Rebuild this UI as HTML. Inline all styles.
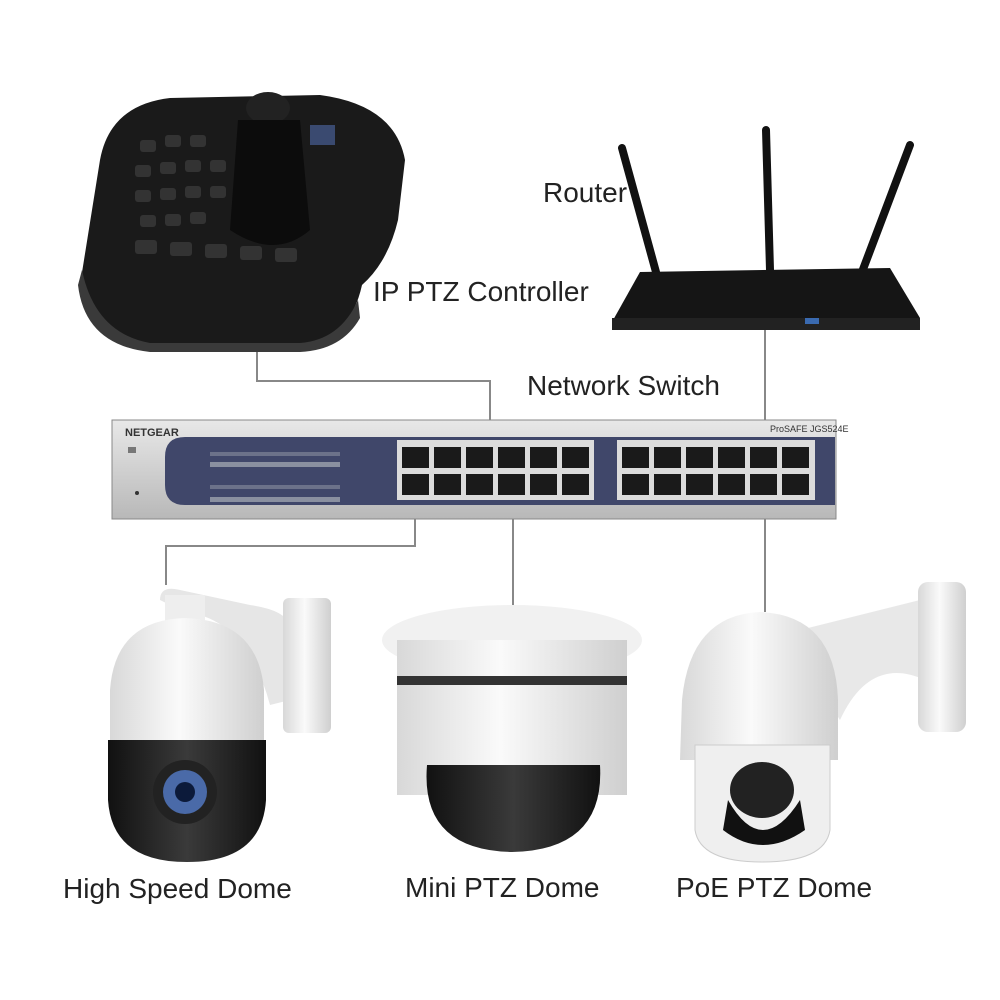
<!DOCTYPE html>
<html><head><style>
html,body{margin:0;padding:0;background:#fff;}
svg{display:block}
text{font-family:"Liberation Sans",sans-serif;fill:#222}
</style></head><body>
<svg width="1000" height="1000" viewBox="0 0 1000 1000" xmlns="http://www.w3.org/2000/svg">
<defs>
<linearGradient id="wh" x1="0" x2="1"><stop offset="0" stop-color="#d8d8d8"/><stop offset=".45" stop-color="#fafafa"/><stop offset="1" stop-color="#cfcfcf"/></linearGradient>
<linearGradient id="bk" x1="0" x2="1"><stop offset="0" stop-color="#111"/><stop offset=".5" stop-color="#3a3a3a"/><stop offset="1" stop-color="#111"/></linearGradient>
<linearGradient id="sil" x1="0" y1="0" x2="0" y2="1"><stop offset="0" stop-color="#e8e8e8"/><stop offset="1" stop-color="#b8b8b8"/></linearGradient>
</defs>

<!-- connectors -->
<g stroke="#888" stroke-width="2" fill="none">
<polyline points="257,345 257,381 490,381 490,422"/>
<line x1="765" y1="328" x2="765" y2="422"/>
<polyline points="415,495 415,546 166,546 166,585"/>
<line x1="513" y1="495" x2="513" y2="618"/>
<line x1="765" y1="495" x2="765" y2="612"/>
</g>

<!-- controller -->
<path d="M100,160 Q110,105 170,98 L320,95 Q395,105 405,160 L398,220 Q388,262 362,285 Q350,340 300,345 L150,345 Q90,338 80,285 Z" fill="#1a1a1a"/>
<path d="M82,270 Q95,333 150,343 L300,343 Q340,340 358,300 L360,318 Q342,350 300,352 L150,352 Q85,345 78,285Z" fill="#3a3a3a"/>
<ellipse cx="268" cy="108" rx="22" ry="16" fill="#222"/>
<path d="M238,120 L300,120 L310,230 Q275,260 230,230 Z" fill="#0c0c0c"/>
<g fill="#333">
<rect x="140" y="140" width="16" height="12" rx="3"/><rect x="165" y="135" width="16" height="12" rx="3"/><rect x="190" y="135" width="16" height="12" rx="3"/>
<rect x="135" y="165" width="16" height="12" rx="3"/><rect x="160" y="162" width="16" height="12" rx="3"/><rect x="185" y="160" width="16" height="12" rx="3"/><rect x="210" y="160" width="16" height="12" rx="3"/>
<rect x="135" y="190" width="16" height="12" rx="3"/><rect x="160" y="188" width="16" height="12" rx="3"/><rect x="185" y="186" width="16" height="12" rx="3"/><rect x="210" y="186" width="16" height="12" rx="3"/>
<rect x="140" y="215" width="16" height="12" rx="3"/><rect x="165" y="214" width="16" height="12" rx="3"/><rect x="190" y="212" width="16" height="12" rx="3"/>
<rect x="135" y="240" width="22" height="14" rx="3"/><rect x="170" y="242" width="22" height="14" rx="3"/><rect x="205" y="244" width="22" height="14" rx="3"/><rect x="240" y="246" width="22" height="14" rx="3"/><rect x="275" y="248" width="22" height="14" rx="3"/>
</g>
<rect x="310" y="125" width="25" height="20" fill="#3a4a70"/>

<!-- router -->
<g stroke="#111" stroke-width="8" stroke-linecap="round">
<line x1="622" y1="148" x2="656" y2="272"/>
<line x1="766" y1="130" x2="770" y2="270"/>
<line x1="910" y1="145" x2="862" y2="272"/>
</g>
<path d="M640,272 L890,268 L920,318 L612,322 Z" fill="#151515"/>
<rect x="612" y="318" width="308" height="12" fill="#222"/>
<rect x="805" y="318" width="14" height="6" fill="#3a6ab0"/>

<!-- switch -->
<rect x="112" y="420" width="724" height="99" fill="url(#sil)" stroke="#888"/>
<path d="M185,437 L835,437 L835,505 L185,505 Q165,505 165,485 L165,457 Q165,437 185,437Z" fill="#40476a"/>
<text x="125" y="436" font-size="11" font-weight="bold" style="fill:#333">NETGEAR</text>
<text x="770" y="432" font-size="9" style="fill:#333">ProSAFE  JGS524E</text>
<rect x="128" y="447" width="8" height="6" fill="#777"/>
<circle cx="137" cy="493" r="2" fill="#333"/>
<g fill="#8a90a0">
<rect x="210" y="462" width="130" height="5"/><rect x="210" y="497" width="130" height="5"/>
<rect x="210" y="452" width="130" height="4" opacity=".6"/><rect x="210" y="485" width="130" height="4" opacity=".6"/>
</g>
<rect x="397" y="440" width="197" height="60" fill="#dcdcdc"/>
<rect x="617" y="440" width="198" height="60" fill="#dcdcdc"/>
<g fill="#1a1a1a">
<rect x="402" y="447" width="27" height="21"/><rect x="434" y="447" width="27" height="21"/><rect x="466" y="447" width="27" height="21"/><rect x="498" y="447" width="27" height="21"/><rect x="530" y="447" width="27" height="21"/><rect x="562" y="447" width="27" height="21"/>
<rect x="402" y="474" width="27" height="21"/><rect x="434" y="474" width="27" height="21"/><rect x="466" y="474" width="27" height="21"/><rect x="498" y="474" width="27" height="21"/><rect x="530" y="474" width="27" height="21"/><rect x="562" y="474" width="27" height="21"/>
<rect x="622" y="447" width="27" height="21"/><rect x="654" y="447" width="27" height="21"/><rect x="686" y="447" width="27" height="21"/><rect x="718" y="447" width="27" height="21"/><rect x="750" y="447" width="27" height="21"/><rect x="782" y="447" width="27" height="21"/>
<rect x="622" y="474" width="27" height="21"/><rect x="654" y="474" width="27" height="21"/><rect x="686" y="474" width="27" height="21"/><rect x="718" y="474" width="27" height="21"/><rect x="750" y="474" width="27" height="21"/><rect x="782" y="474" width="27" height="21"/>
</g>

<!-- camera 1 -->
<path d="M160,600 Q160,585 180,590 L250,605 Q285,610 290,625 L290,700 L270,705 Q250,630 200,615 L190,615Z" fill="#e6e6e6"/>
<rect x="283" y="598" width="48" height="135" rx="6" fill="url(#wh)"/>
<rect x="165" y="595" width="40" height="40" fill="#eee"/>
<path d="M110,740 L110,690 Q115,620 185,618 Q258,620 264,690 L264,740Z" fill="url(#wh)"/>
<path d="M108,740 L266,740 L266,800 Q262,862 187,862 Q112,862 108,800Z" fill="url(#bk)"/>
<circle cx="185" cy="792" r="32" fill="#222"/>
<circle cx="185" cy="792" r="22" fill="#4a6aa8"/>
<circle cx="185" cy="792" r="10" fill="#0c1a3a"/>

<!-- camera 2 -->
<ellipse cx="512" cy="640" rx="130" ry="35" fill="#f1f1f1"/>
<rect x="397" y="640" width="230" height="155" fill="url(#wh)"/>
<rect x="397" y="676" width="230" height="9" fill="#333"/>
<path d="M427,765 L600,765 Q605,850 512,852 Q420,850 427,765Z" fill="url(#bk)"/>

<!-- camera 3 -->
<path d="M760,640 L920,600 L925,680 Q870,655 840,720 L800,660Z" fill="#e8e8e8"/>
<rect x="918" y="582" width="48" height="150" rx="10" fill="url(#wh)"/>
<path d="M680,760 L682,700 Q690,615 760,612 Q835,615 838,700 L838,760Z" fill="url(#wh)"/>
<path d="M695,745 L830,745 L830,830 Q825,862 762,862 Q700,862 695,830Z" fill="#efefef" stroke="#ccc"/>
<ellipse cx="762" cy="790" rx="32" ry="28" fill="#222"/>
<path d="M728,800 Q762,860 800,800 L805,830 Q762,860 723,830Z" fill="#111"/>

<!-- labels -->
<text x="543" y="202" font-size="28">Router</text>
<text x="373" y="301" font-size="28">IP PTZ Controller</text>
<text x="527" y="395" font-size="28">Network Switch</text>
<text x="63" y="898" font-size="28">High Speed Dome</text>
<text x="405" y="897" font-size="28">Mini PTZ Dome</text>
<text x="676" y="897" font-size="28">PoE PTZ Dome</text>
</svg>
</body></html>
